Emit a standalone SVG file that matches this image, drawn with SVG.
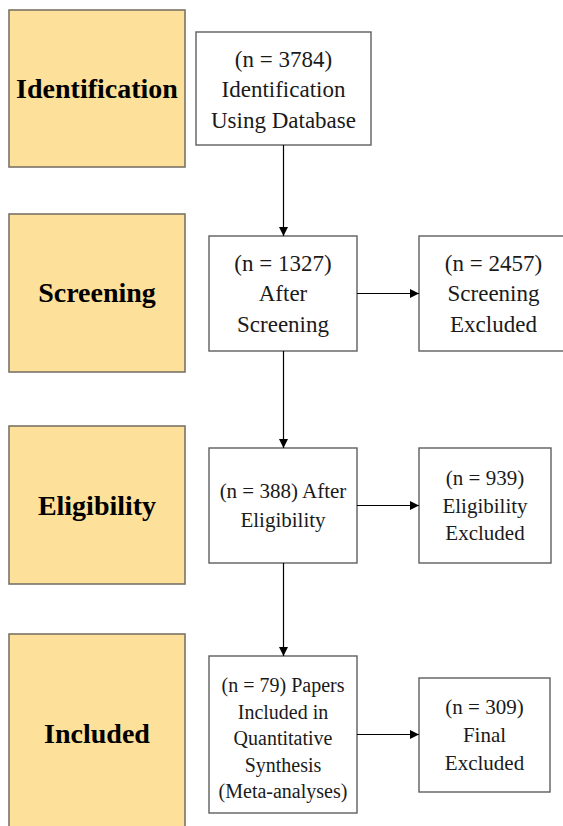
<svg xmlns="http://www.w3.org/2000/svg" width="563" height="826" viewBox="0 0 563 826">
<style>
.stage{fill:#FDE19B;stroke:#7a7466;stroke-width:1.6}
.box{fill:#ffffff;stroke:#5e5e5e;stroke-width:1.4}
.conn{stroke:#000;stroke-width:1.2;fill:none}
.lbl{font-family:"Liberation Serif",serif;font-weight:bold;font-size:28px;fill:#000;text-anchor:middle}
.t{font-family:"Liberation Serif",serif;font-size:23px;fill:#1a1a1a;text-anchor:middle}
.t21{font-family:"Liberation Serif",serif;font-size:21px;fill:#1a1a1a;text-anchor:middle}
.t20{font-family:"Liberation Serif",serif;font-size:20px;fill:#1a1a1a;text-anchor:middle}
</style>
<defs>
<marker id="ah" viewBox="0 0 10 10" refX="10" refY="5" markerWidth="9" markerHeight="9" markerUnits="userSpaceOnUse" orient="auto">
<path d="M0,0 L10,5 L0,10 z" fill="#000"/>
</marker>
</defs>
<rect width="563" height="826" fill="#ffffff"/>

<g id="stage-identification">
<rect class="stage" x="9" y="10" width="176" height="157"/>
<text class="lbl" x="97" y="98">Identification</text>
</g>
<g id="stage-screening">
<rect class="stage" x="9" y="214" width="176" height="158"/>
<text class="lbl" x="97" y="302">Screening</text>
</g>
<g id="stage-eligibility">
<rect class="stage" x="9" y="426" width="176" height="158"/>
<text class="lbl" x="97" y="515">Eligibility</text>
</g>
<g id="stage-included">
<rect class="stage" x="9" y="634" width="176" height="210"/>
<text class="lbl" x="97" y="743">Included</text>
</g>

<g id="node-identification">
<rect class="box" x="196" y="32" width="175" height="113"/>
<text class="t" x="283.5" y="67">(n = 3784)</text>
<text class="t" x="283.5" y="97">Identification</text>
<text class="t" x="283.5" y="128">Using Database</text>
</g>

<g id="node-after-screening">
<rect class="box" x="209" y="236" width="148" height="115"/>
<text class="t" x="283" y="271">(n = 1327)</text>
<text class="t" x="283" y="301">After</text>
<text class="t" x="283" y="332">Screening</text>
</g>

<g id="node-screening-excluded">
<rect class="box" x="419" y="236" width="152" height="115"/>
<text class="t" x="493.5" y="271">(n = 2457)</text>
<text class="t" x="493.5" y="301">Screening</text>
<text class="t" x="493.5" y="332">Excluded</text>
</g>

<g id="node-after-eligibility">
<rect class="box" x="209" y="448" width="148" height="115"/>
<text class="t21" x="283" y="498">(n = 388) After</text>
<text class="t21" x="283" y="527">Eligibility</text>
</g>

<g id="node-eligibility-excluded">
<rect class="box" x="419" y="448" width="132" height="115"/>
<text class="t21" x="485" y="485">(n = 939)</text>
<text class="t21" x="485" y="512.5">Eligibility</text>
<text class="t21" x="485" y="540">Excluded</text>
</g>

<g id="node-included">
<rect class="box" x="209" y="656" width="148" height="157"/>
<text class="t20" x="283" y="692">(n = 79) Papers</text>
<text class="t20" x="283" y="718.5">Included in</text>
<text class="t20" x="283" y="745">Quantitative</text>
<text class="t20" x="283" y="771.5">Synthesis</text>
<text class="t20" x="283" y="798">(Meta-analyses)</text>
</g>

<g id="node-final-excluded">
<rect class="box" x="419" y="678" width="131" height="114"/>
<text class="t21" x="484.5" y="714">(n = 309)</text>
<text class="t21" x="484.5" y="742">Final</text>
<text class="t21" x="484.5" y="770">Excluded</text>
</g>

<g id="connectors">
<line class="conn" x1="283.5" y1="145" x2="283.5" y2="236" marker-end="url(#ah)"/>
<line class="conn" x1="283.5" y1="351" x2="283.5" y2="448" marker-end="url(#ah)"/>
<line class="conn" x1="283.5" y1="563" x2="283.5" y2="656" marker-end="url(#ah)"/>
<line class="conn" x1="357" y1="293.5" x2="419" y2="293.5" marker-end="url(#ah)"/>
<line class="conn" x1="357" y1="505.5" x2="419" y2="505.5" marker-end="url(#ah)"/>
<line class="conn" x1="357" y1="734.5" x2="419" y2="734.5" marker-end="url(#ah)"/>
</g>
</svg>
